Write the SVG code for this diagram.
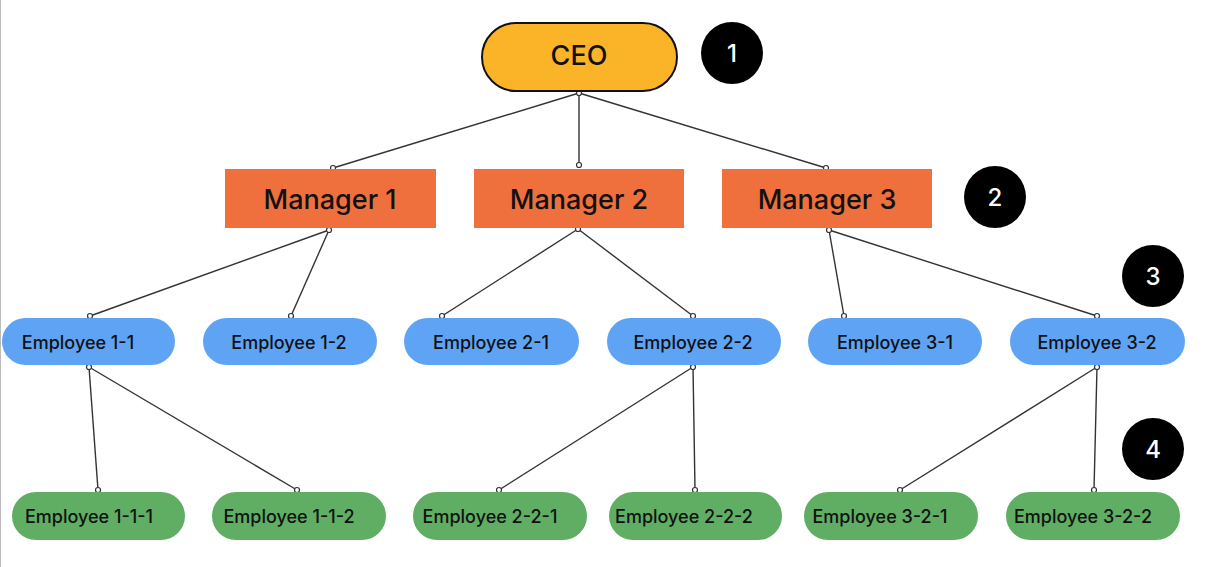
<svg xmlns="http://www.w3.org/2000/svg" width="1206" height="567" viewBox="0 0 1206 567">
<style>
text{font-family:Inter,"Noto Sans","Liberation Sans",sans-serif;fill:#111;text-anchor:middle;dominant-baseline:central}
.ceo{fill:#FBB428;stroke:#111;stroke-width:2}
.mgr{fill:#EF703D}
.emp{fill:#5FA4F4}
.sub{fill:#5FAE63}
.big{font-size:27px;font-weight:500}
.sm{font-size:18px;font-weight:500}
.badge{fill:#000}
.bt{fill:#fff;font-size:24px;font-weight:500}
.c line{stroke:#333;stroke-width:1.4}
.c circle{fill:#fff;stroke:#333;stroke-width:1.2}
</style>
<rect width="1206" height="567" fill="#fff"/>
<line x1="0.5" y1="0" x2="0.5" y2="567" stroke="#bbb" stroke-width="1"/>
<g id="connectors" class="c">
<line x1="579" y1="93" x2="333" y2="168"/>
<line x1="579" y1="93" x2="579" y2="165"/>
<line x1="579" y1="93" x2="826" y2="168"/>
<line x1="329" y1="230" x2="90" y2="316"/>
<line x1="329" y1="230" x2="291" y2="316"/>
<line x1="578" y1="229" x2="442" y2="316"/>
<line x1="578" y1="229" x2="693" y2="316"/>
<line x1="829" y1="230" x2="844" y2="316"/>
<line x1="829" y1="230" x2="1097" y2="316"/>
<line x1="89" y1="367" x2="98" y2="490"/>
<line x1="89" y1="367" x2="297" y2="490"/>
<line x1="693" y1="367" x2="499" y2="490"/>
<line x1="693" y1="367" x2="695" y2="490"/>
<line x1="1097" y1="367" x2="900" y2="490"/>
<line x1="1097" y1="367" x2="1094" y2="490"/>
<circle cx="579" cy="93" r="2.5"/>
<circle cx="333" cy="168" r="2.5"/>
<circle cx="579" cy="165" r="2.5"/>
<circle cx="826" cy="168" r="2.5"/>
<circle cx="329" cy="230" r="2.5"/>
<circle cx="90" cy="316" r="2.5"/>
<circle cx="291" cy="316" r="2.5"/>
<circle cx="578" cy="229" r="2.5"/>
<circle cx="442" cy="316" r="2.5"/>
<circle cx="693" cy="316" r="2.5"/>
<circle cx="829" cy="230" r="2.5"/>
<circle cx="844" cy="316" r="2.5"/>
<circle cx="1097" cy="316" r="2.5"/>
<circle cx="89" cy="367" r="2.5"/>
<circle cx="98" cy="490" r="2.5"/>
<circle cx="297" cy="490" r="2.5"/>
<circle cx="693" cy="367" r="2.5"/>
<circle cx="499" cy="490" r="2.5"/>
<circle cx="695" cy="490" r="2.5"/>
<circle cx="1097" cy="367" r="2.5"/>
<circle cx="900" cy="490" r="2.5"/>
<circle cx="1094" cy="490" r="2.5"/>
</g>
<g id="ceo"><rect class="ceo" x="482" y="23" width="195" height="68" rx="34"/><text class="big" x="579" y="55">CEO</text></g>
<g id="badge1"><circle class="badge" cx="732" cy="53" r="31"/><text class="bt" x="732" y="53">1</text></g>
<g id="manager1"><rect class="mgr" x="225" y="169" width="211" height="59"/><text class="big" x="330" y="199">Manager 1</text></g>
<g id="manager2"><rect class="mgr" x="474" y="169" width="210" height="59"/><text class="big" x="579" y="199">Manager 2</text></g>
<g id="manager3"><rect class="mgr" x="722" y="169" width="210" height="59"/><text class="big" x="827" y="199">Manager 3</text></g>
<g id="badge2"><circle class="badge" cx="995" cy="197" r="31"/><text class="bt" x="995" y="197">2</text></g>
<g id="badge3"><circle class="badge" cx="1153" cy="276" r="31"/><text class="bt" x="1153" y="276">3</text></g>
<g id="badge4"><circle class="badge" cx="1153" cy="449" r="31"/><text class="bt" x="1153" y="449">4</text></g>
<g id="emp1-1"><rect class="emp" x="2" y="318" width="173" height="47" rx="23.5"/><text class="sm" x="78" y="342">Employee 1-1</text></g>
<g id="emp1-2"><rect class="emp" x="203" y="318" width="174" height="47" rx="23.5"/><text class="sm" x="289" y="342">Employee 1-2</text></g>
<g id="emp2-1"><rect class="emp" x="404" y="318" width="175" height="47" rx="23.5"/><text class="sm" x="491" y="342">Employee 2-1</text></g>
<g id="emp2-2"><rect class="emp" x="607" y="318" width="174" height="47" rx="23.5"/><text class="sm" x="693" y="342">Employee 2-2</text></g>
<g id="emp3-1"><rect class="emp" x="808" y="318" width="174" height="47" rx="23.5"/><text class="sm" x="895" y="342">Employee 3-1</text></g>
<g id="emp3-2"><rect class="emp" x="1010" y="318" width="175" height="47" rx="23.5"/><text class="sm" x="1097" y="342">Employee 3-2</text></g>
<g id="emp1-1-1"><rect class="sub" x="12" y="492" width="173" height="48" rx="24"/><text class="sm" x="89" y="516">Employee 1-1-1</text></g>
<g id="emp1-1-2"><rect class="sub" x="212" y="492" width="174" height="48" rx="24"/><text class="sm" x="289" y="516">Employee 1-1-2</text></g>
<g id="emp2-2-1"><rect class="sub" x="413" y="492" width="174" height="48" rx="24"/><text class="sm" x="490" y="516">Employee 2-2-1</text></g>
<g id="emp2-2-2"><rect class="sub" x="609" y="492" width="173" height="48" rx="24"/><text class="sm" x="684" y="516">Employee 2-2-2</text></g>
<g id="emp3-2-1"><rect class="sub" x="804" y="492" width="174" height="48" rx="24"/><text class="sm" x="880" y="516">Employee 3-2-1</text></g>
<g id="emp3-2-2"><rect class="sub" x="1006" y="492" width="174" height="48" rx="24"/><text class="sm" x="1083" y="516">Employee 3-2-2</text></g>
</svg>
